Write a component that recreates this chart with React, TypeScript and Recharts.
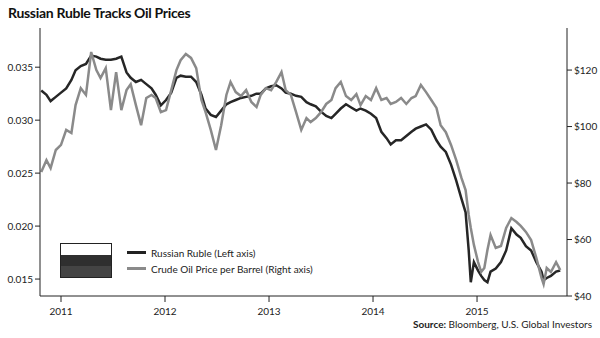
import { LineChart, Line, XAxis, YAxis } from 'recharts'

// decimal years
const dates = [
  2010.81, 2010.86, 2010.9, 2010.95, 2011.0, 2011.05, 2011.1, 2011.14, 2011.19, 2011.24,
  2011.29, 2011.34, 2011.38, 2011.43, 2011.48, 2011.53, 2011.58, 2011.63, 2011.67, 2011.72,
  2011.77, 2011.82, 2011.87, 2011.91, 2011.96, 2012.01, 2012.06, 2012.11, 2012.15, 2012.2,
  2012.25, 2012.3, 2012.35, 2012.39, 2012.44, 2012.49, 2012.54, 2012.59, 2012.63, 2012.68,
  2012.73, 2012.78, 2012.83, 2012.88, 2012.92, 2012.97, 2013.02, 2013.07, 2013.12, 2013.16,
  2013.21, 2013.26, 2013.31, 2013.36, 2013.4, 2013.45, 2013.5, 2013.55, 2013.6, 2013.64,
  2013.69, 2013.74, 2013.79, 2013.84, 2013.88, 2013.93, 2013.98, 2014.03, 2014.08, 2014.13,
  2014.17, 2014.22, 2014.27, 2014.32, 2014.37, 2014.41, 2014.46, 2014.51, 2014.56, 2014.61,
  2014.65, 2014.7, 2014.75, 2014.8, 2014.85, 2014.89, 2014.92, 2014.94, 2014.97, 2015.01,
  2015.04, 2015.07, 2015.1, 2015.13, 2015.18, 2015.23, 2015.28, 2015.33, 2015.38, 2015.42,
  2015.47, 2015.52, 2015.57, 2015.62, 2015.64, 2015.67, 2015.71, 2015.76, 2015.8,
]

// USD per ruble (left axis)
const ruble = [
  0.0328, 0.0324, 0.0318, 0.0322, 0.0326, 0.033, 0.0338, 0.0347, 0.0351, 0.0353,
  0.0361, 0.036, 0.0358, 0.0357, 0.0357, 0.0358, 0.036, 0.0345, 0.034, 0.0336,
  0.0338, 0.0334, 0.033, 0.0324, 0.0314, 0.0319, 0.0326, 0.034, 0.0342, 0.0341,
  0.0341, 0.0336, 0.0324, 0.0311, 0.0305, 0.0303, 0.0309, 0.0315, 0.0317, 0.0319,
  0.0321, 0.0322, 0.0323, 0.0325, 0.0325, 0.033, 0.0332, 0.0333, 0.033, 0.0326,
  0.0325, 0.0323, 0.0322, 0.0317, 0.0315, 0.0313, 0.0308, 0.0304, 0.0302, 0.0306,
  0.0311, 0.0315, 0.0312, 0.0309, 0.0311, 0.0309, 0.0306, 0.0302, 0.0289, 0.0283,
  0.0277, 0.0281, 0.0281, 0.0285, 0.0289, 0.0292, 0.0294, 0.0296, 0.0291, 0.0281,
  0.0275, 0.027, 0.0258, 0.0243, 0.0226, 0.0213, 0.0177, 0.0147, 0.0166, 0.0158,
  0.0153, 0.0149, 0.0147, 0.0157, 0.016, 0.0166, 0.0177, 0.0198, 0.0192, 0.0189,
  0.0181, 0.0177, 0.0166, 0.0157, 0.0149, 0.0151, 0.0153, 0.0157, 0.0158,
]

// crude oil, $ per barrel (right axis)
const oil = [
  83.9, 88.1, 85.3, 91.7, 93.5, 98.8, 97.7, 107.6, 113.6, 111.2,
  126.4, 120.0, 117.2, 120.7, 105.8, 119.3, 105.8, 112.9, 115.0, 107.6,
  100.5, 110.1, 111.2, 110.1, 105.1, 105.8, 112.9, 120.0, 123.5, 125.7,
  124.3, 120.7, 109.4, 105.1, 98.8, 91.7, 100.5, 111.2, 115.8, 112.2,
  110.8, 112.9, 108.7, 106.9, 111.2, 113.6, 112.9, 115.8, 119.3, 112.9,
  111.2, 105.1, 98.8, 103.0, 101.6, 103.0, 105.1, 108.0, 109.4, 113.6,
  115.8, 110.8, 109.4, 111.5, 107.6, 110.8, 109.4, 113.6, 109.4, 110.1,
  108.0, 108.7, 110.1, 108.0, 110.1, 110.8, 114.7, 112.2, 109.4, 106.6,
  100.5, 98.0, 93.5, 88.1, 81.8, 77.5, 68.7, 64.1, 58.1, 52.0,
  48.5, 49.9, 56.3, 61.6, 57.0, 57.7, 64.1, 67.6, 66.2, 64.8,
  62.7, 59.8, 53.5, 46.4, 44.2, 49.9, 48.5, 52.0, 49.2,
]

const yearTicks = [2011, 2012, 2013, 2014, 2015]
const rubleTicks = [0.015, 0.02, 0.025, 0.03, 0.035]
const oilTicks = [40, 60, 80, 100, 120]

const data = dates.map((t, i) => ({ t, ruble: ruble[i], oil: oil[i] }))

const FONT = 'Lato, "Open Sans", sans-serif'
const AXIS = '#222'
const tickStyle = { fontSize: 10, fill: '#222', fontFamily: FONT }

// the legend sits inside the plot, so it is an overlay rather than a recharts <Legend>
function LegendBox() {
  return (
    <div
      style={{
        position: 'absolute', left: 60, top: 243, display: 'flex', alignItems: 'center',
        fontFamily: FONT, fontSize: 10, color: '#222',
      }}
    >
      <div style={{ width: 52, height: 35, border: '1px solid #222', boxSizing: 'border-box' }}>
        <div style={{ height: 11, background: '#fff' }} />
        <div style={{ height: 11, background: '#2f2f2f' }} />
        <div style={{ height: 11, background: '#444' }} />
      </div>
      <div style={{ marginLeft: 15 }}>
        <div style={{ display: 'flex', alignItems: 'center', height: 16 }}>
          <span style={{ display: 'inline-block', width: 19, height: 3, background: '#222', marginRight: 5 }} />
          Russian Ruble (Left axis)
        </div>
        <div style={{ display: 'flex', alignItems: 'center', height: 16 }}>
          <span style={{ display: 'inline-block', width: 19, height: 3, background: '#8a8a8a', marginRight: 5 }} />
          Crude Oil Price per Barrel (Right axis)
        </div>
      </div>
    </div>
  )
}

export default function App() {
  return (
    <div style={{ position: 'fixed', left: 0, top: 0, width: 600, height: 338, background: '#fff' }}>
      <div
        style={{
          position: 'absolute', left: 8, top: 4, fontFamily: FONT, fontWeight: 700,
          fontSize: 14, color: '#111', letterSpacing: -0.3,
        }}
      >
        Russian Ruble Tracks Oil Prices
      </div>
      <LineChart width={600} height={338} data={data} margin={{ top: 28, right: 0, bottom: 22, left: 0 }}>
        <XAxis
          dataKey="t"
          type="number"
          domain={[2010.798, 2015.865]}
          ticks={yearTicks}
          tickFormatter={(v) => String(Math.round(v))}
          allowDataOverflow
          height={20}
          stroke={AXIS}
          tick={{ ...tickStyle, dy: 4 }}
          tickSize={6}
        />
        <YAxis
          yAxisId="left"
          orientation="left"
          domain={[0.0134, 0.0387]}
          ticks={rubleTicks}
          tickFormatter={(v) => v.toFixed(3)}
          allowDataOverflow
          width={40}
          stroke={AXIS}
          tick={tickStyle}
          tickSize={5}
        />
        <YAxis
          yAxisId="right"
          orientation="right"
          domain={[40, 134.9]}
          ticks={oilTicks}
          tickFormatter={(v) => '$' + v}
          allowDataOverflow
          width={33}
          stroke={AXIS}
          tick={tickStyle}
          tickSize={5}
        />
        <Line yAxisId="left" dataKey="ruble" stroke="#262626" strokeWidth={2.5} dot={false} isAnimationActive={false} />
        <Line yAxisId="right" dataKey="oil" stroke="#8a8a8a" strokeWidth={2.5} dot={false} isAnimationActive={false} />
      </LineChart>
      <LegendBox />
      <div style={{ position: 'absolute', right: 8, top: 318, fontFamily: FONT, fontSize: 10, color: '#222' }}>
        <b>Source:</b> Bloomberg, U.S. Global Investors
      </div>
    </div>
  )
}
